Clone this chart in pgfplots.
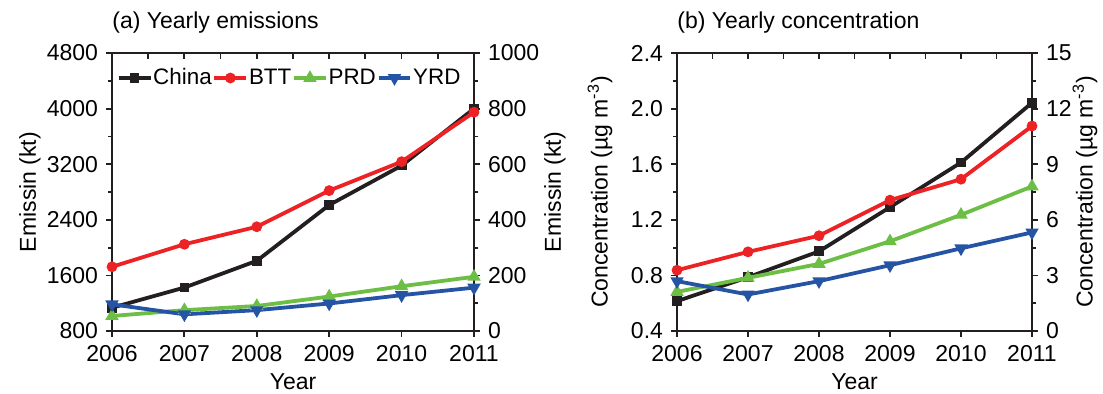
\documentclass[border=0pt]{standalone}
\usepackage{fontspec}
\setmainfont{Liberation Sans}
\usepackage{pgfplots}
\pgfplotsset{compat=1.18}
\definecolor{cblack}{RGB}{35,31,32}
\definecolor{cred}{RGB}{237,34,36}
\definecolor{cgreen}{RGB}{109,190,69}
\definecolor{cblue}{RGB}{38,84,164}
\newcommand\ff{\fontsize{11.5}{13.5}\selectfont}
\pgfplotsset{
  base/.style={scale only axis, height=139pt, xmin=2006, xmax=2011,
    tick align=outside, major tick length=3pt, minor tick length=2pt,
    every tick/.style={line width=0.9pt, cblack},
    axis line style={line width=1pt, cblack},
    /pgf/number format/assume math mode=true,
    /pgf/number format/1000 sep={},
    tick label style={font=\ff},
    label style={font=\ff},
    xlabel style={at={(axis description cs:0.5,0)}, anchor=center, yshift=-25.5pt},
    clip=false},
  chinas/.style={cblack, line width=1.9pt, mark=square*, mark size=1.5pt},
  btts/.style={cred, line width=1.9pt, mark=*, mark size=1.7pt},
  prds/.style={cgreen, line width=1.9pt, mark=triangle*, mark size=2pt},
  yrds/.style={cblue, line width=1.9pt, mark=triangle*, mark size=2pt, mark options={rotate=180}},
}
\begin{document}
\ff
\begin{tikzpicture}
\useasboundingbox (0,0) rectangle (551.5pt,196.5pt);
% ---------- panel (a) ----------
\begin{axis}[base, width=181pt, at={(56pt,31pt)}, anchor=south west,
  ymin=800, ymax=4800, ytick={800,1600,...,4800}, minor y tick num=1,
  ytick pos=left, xtick pos=left, xtick={2006,...,2011},
  xlabel={Year}, ylabel={Emissin (kt)},
  ylabel style={at={(axis description cs:0,0.5)}, anchor=center, yshift=41pt},
  title={(a) Yearly emissions},
  title style={at={(0,1)}, anchor=base west, yshift=6.5pt, inner sep=0pt, font=\ff}]
\addplot[chinas] coordinates {(2006,1135) (2007,1425) (2008,1810) (2009,2613) (2010,3180) (2011,4000)};
\end{axis}
\begin{axis}[base, width=181pt, at={(56pt,31pt)}, anchor=south west,
  hide x axis, ymin=0, ymax=1000, ytick={0,200,...,1000}, minor y tick num=1,
  ytick pos=right, yticklabel pos=right, ylabel={Emissin (kt)},
  ylabel style={at={(axis description cs:1,0.5)}, anchor=center, yshift=-40.5pt},
  legend columns=4,
  legend style={draw=none, fill=none, at={(0.012,0.91)}, anchor=west,
    inner sep=0pt, nodes={inner xsep=0.4pt, font=\fontsize{11.2}{13}\selectfont}},
  legend image code/.code={\draw[mark repeat=2, mark phase=2, #1] plot coordinates {(0cm,0cm) (0.28cm,0cm) (0.56cm,0cm)};}]
\addlegendimage{chinas}
\addlegendentry{China}
\addplot[btts] coordinates {(2006,231) (2007,312) (2008,375) (2009,505) (2010,609) (2011,787)};
\addlegendentry{BTT}
\addplot[prds] coordinates {(2006,54) (2007,75) (2008,90) (2009,124) (2010,161) (2011,195)};
\addlegendentry{PRD}
\addplot[yrds] coordinates {(2006,96) (2007,60) (2008,75) (2009,99) (2010,129) (2011,156)};
\addlegendentry{YRD}
\end{axis}
\begin{axis}[base, width=181pt, at={(56pt,31pt)}, anchor=south west,
  hide y axis, ymin=0, ymax=1, xtick pos=right, tick align=inside,
  xtick={2006,2006.5,...,2011}, xticklabels={}]
\end{axis}
% ---------- panel (b) ----------
\begin{axis}[base, width=177.5pt, at={(338.5pt,31pt)}, anchor=south west,
  ymin=0.4, ymax=2.4, ytick={0.4,0.8,...,2.4}, minor y tick num=1,
  yticklabel style={/pgf/number format/fixed, /pgf/number format/fixed zerofill, /pgf/number format/precision=1},
  ytick pos=left, xtick pos=left, xtick={2006,...,2011},
  xlabel={Year}, ylabel={Concentration (µg m\textsuperscript{-3})},
  ylabel style={at={(axis description cs:0,0.5)}, anchor=center, yshift=38.5pt},
  title={(b) Yearly concentration},
  title style={at={(0,1)}, anchor=base west, yshift=6.5pt, inner sep=0pt, font=\ff}]
\addplot[chinas] coordinates {(2006,0.615) (2007,0.787) (2008,0.973) (2009,1.291) (2010,1.612) (2011,2.042)};
\end{axis}
\begin{axis}[base, width=177.5pt, at={(338.5pt,31pt)}, anchor=south west,
  hide x axis, ymin=0, ymax=15, ytick={0,3,...,15}, minor y tick num=1,
  ytick pos=right, yticklabel pos=right, ylabel={Concentration (µg m\textsuperscript{-3})},
  ylabel style={at={(axis description cs:1,0.5)}, anchor=center, yshift=-26.5pt}]
\addplot[btts] coordinates {(2006,3.28) (2007,4.27) (2008,5.14) (2009,7.06) (2010,8.19) (2011,11.06)};
\addplot[prds] coordinates {(2006,2.11) (2007,2.87) (2008,3.62) (2009,4.84) (2010,6.27) (2011,7.80)};
\addplot[yrds] coordinates {(2006,2.69) (2007,1.97) (2008,2.69) (2009,3.55) (2010,4.46) (2011,5.32)};
\end{axis}
\begin{axis}[base, width=177.5pt, at={(338.5pt,31pt)}, anchor=south west,
  hide y axis, ymin=0, ymax=1, xtick pos=right, tick align=inside,
  xtick={2006,2006.5,...,2011}, xticklabels={}]
\end{axis}
\end{tikzpicture}
\end{document}
